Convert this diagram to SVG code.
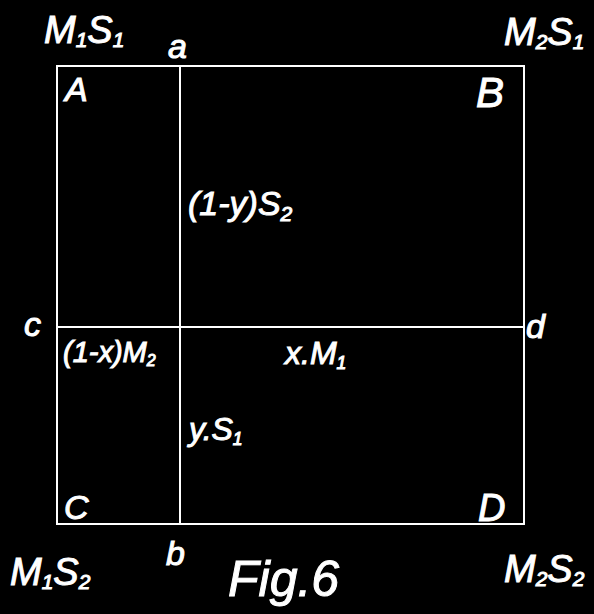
<svg xmlns="http://www.w3.org/2000/svg" width="594" height="614" viewBox="0 0 594 614">
<style>
.ln{stroke:#fff;stroke-width:2;fill:none}
text{fill:#fff;stroke:#fff;stroke-width:1;font-family:"Liberation Sans",Arial,sans-serif;font-style:italic}
.big{font-size:38px}
.lab{font-size:34px}
.mid{font-size:32px}
.sm{font-size:29px}
.sub{font-size:0.55em}
</style>
<rect width="594" height="614" fill="#000"/>
<g id="connectors">
<rect class="ln" x="57" y="66" width="467" height="458"/>
<line class="ln" x1="180" y1="66" x2="180" y2="524"/>
<line class="ln" x1="57" y1="327" x2="524" y2="327"/>
</g>
<g id="corner-MS-tl"><text class="big" x="44" y="43">M<tspan class="sub" dy="4">1</tspan><tspan dy="-4">S</tspan><tspan class="sub" dy="4">1</tspan></text></g>
<g id="corner-MS-tr"><text class="big" x="504" y="45">M<tspan class="sub" dy="4">2</tspan><tspan dy="-4">S</tspan><tspan class="sub" dy="4">1</tspan></text></g>
<g id="corner-MS-bl"><text class="big" x="10" y="585">M<tspan class="sub" dy="4">1</tspan><tspan dy="-4">S</tspan><tspan class="sub" dy="4">2</tspan></text></g>
<g id="corner-MS-br"><text class="big" x="504" y="582">M<tspan class="sub" dy="4">2</tspan><tspan dy="-4">S</tspan><tspan class="sub" dy="4">2</tspan></text></g>
<g id="label-a"><text class="lab" x="168" y="58">a</text></g>
<g id="label-b"><text class="lab" x="166" y="565">b</text></g>
<g id="label-c"><text class="lab" x="24" y="336">c</text></g>
<g id="label-d"><text class="lab" x="526" y="338">d</text></g>
<g id="node-A"><text class="lab" x="65" y="101">A</text></g>
<g id="node-B"><text style="font-size:42px" x="476" y="107">B</text></g>
<g id="node-C"><text class="lab" x="64" y="519">C</text></g>
<g id="node-D"><text style="font-size:38px" x="478" y="521">D</text></g>
<g id="label-1-yS2"><text style="font-size:34px" x="188" y="215">(1-y)S<tspan style="font-size:21px" dy="6">2</tspan></text></g>
<g id="label-1-xM2"><text class="sm" x="63" y="362">(1-x)M<tspan class="sub" dy="4">2</tspan></text></g>
<g id="label-xM1"><text class="mid" x="285" y="364">x.M<tspan class="sub" dy="5">1</tspan></text></g>
<g id="label-yS1"><text class="mid" x="189" y="440">y.S<tspan class="sub" dy="5">1</tspan></text></g>
<g id="caption"><text style="font-size:50px" x="228" y="596">Fig.6</text></g>
</svg>
